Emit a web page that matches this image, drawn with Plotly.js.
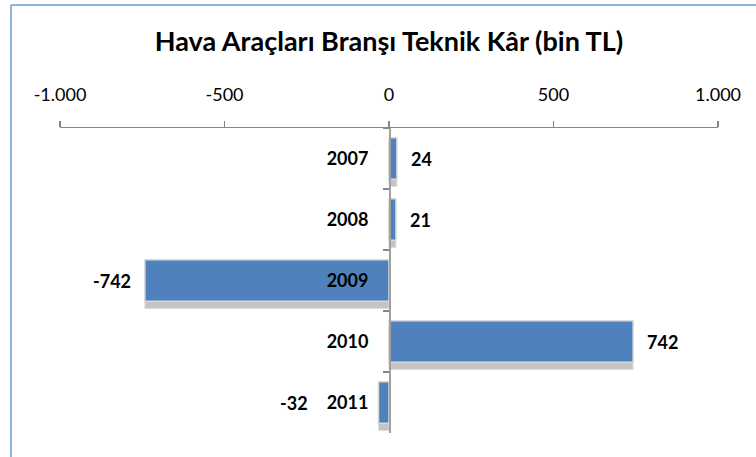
<!DOCTYPE html>
<html>
<head>
<meta charset="utf-8">
<script src="https://cdn.plot.ly/plotly-3.0.1.min.js"></script>
<style>html,body{margin:0;padding:0;background:#fff;}#chart{width:756px;height:457px;}</style>
</head>
<body>
<div id="chart"></div>
<script>
const years = ['2007', '2008', '2009', '2010', '2011'];
const values = [24, 21, -742, 742, -32];
const tickVals = [-1000, -500, 0, 500, 1000];
const tickText = ['-1.000', '-500', '0', '500', '1.000'];
const chartTitle = 'Hava Araçları Branşı Teknik Kâr (bin TL)';

const FONT = 'Lato, "Open Sans", sans-serif';
const BAR_W = 0.68;
const NEG_LABEL_LIMIT = -205; // keep negative labels clear of category labels

const shadow = {
  type: 'bar', orientation: 'h', y: years, x: values,
  width: BAR_W, offset: -BAR_W / 2 + 0.12,
  marker: { color: '#c4c4c4', line: { color: '#dedede', width: 1 } },
  hoverinfo: 'skip', showlegend: false
};
const bars = {
  type: 'bar', orientation: 'h', y: years, x: values,
  width: BAR_W, offset: -BAR_W / 2,
  marker: { color: '#4F81BD', line: { color: '#d9d9d9', width: 1.5 } },
  showlegend: false
};

const annotations = values.map((v, i) => ({
  x: v >= 0 ? v : Math.min(v, NEG_LABEL_LIMIT),
  y: i, xref: 'x', yref: 'y',
  text: String(v), showarrow: false,
  xanchor: v >= 0 ? 'left' : 'right',
  xshift: v >= 0 ? 12 : -12,
  font: { family: FONT, size: 18, color: '#000', weight: 'bold' }
}));

const borderColor = '#8EB4E3';
const layout = {
  width: 756, height: 457,
  margin: { l: 60, r: 38, t: 128, b: 24, pad: 0 },
  paper_bgcolor: '#fff', plot_bgcolor: '#fff',
  barmode: 'overlay',
  title: {
    text: chartTitle,
    font: { family: FONT, size: 27, color: '#000', weight: 'bold' },
    xref: 'paper', x: 0.5, xanchor: 'center',
    yref: 'container', y: 1 - 42 / 457, yanchor: 'middle'
  },
  xaxis: {
    range: [-1000, 1000], autorange: false, side: 'top',
    tickmode: 'array', tickvals: tickVals, ticktext: tickText,
    ticks: 'outside', ticklen: 6, tickwidth: 1.5, tickcolor: '#868686',
    showline: true, linecolor: '#868686', linewidth: 1.5,
    showgrid: false, zeroline: false,
    tickfont: { family: FONT, size: 18, color: '#000' },
    ticklabelstandoff: 12, fixedrange: true
  },
  yaxis: {
    type: 'category', categoryarray: years, categoryorder: 'array',
    range: [4.5, -0.5], autorange: false,
    anchor: 'free', position: 0.5,
    showline: true, linecolor: '#a0a0a0', linewidth: 1.5,
    ticks: 'outside', tickson: 'boundaries', ticklen: 6, tickwidth: 1.5, tickcolor: '#868686',
    showgrid: false, zeroline: false,
    tickfont: { family: FONT, size: 18, color: '#000', weight: 'bold' },
    ticklabelstandoff: 17, fixedrange: true
  },
  annotations: annotations,
  shapes: [
    { type: 'line', xref: 'paper', yref: 'paper', x0: -0.0745, x1: -0.0745, y0: -0.2, y1: 1.403,
      line: { color: borderColor, width: 2 } },
    { type: 'line', xref: 'paper', yref: 'paper', x0: -0.0745, x1: 1.2, y0: 1.403, y1: 1.403,
      line: { color: borderColor, width: 2 } }
  ]
};

Plotly.newPlot('chart', [shadow, bars], layout, { staticPlot: true, displayModeBar: false });
</script>
</body>
</html>
